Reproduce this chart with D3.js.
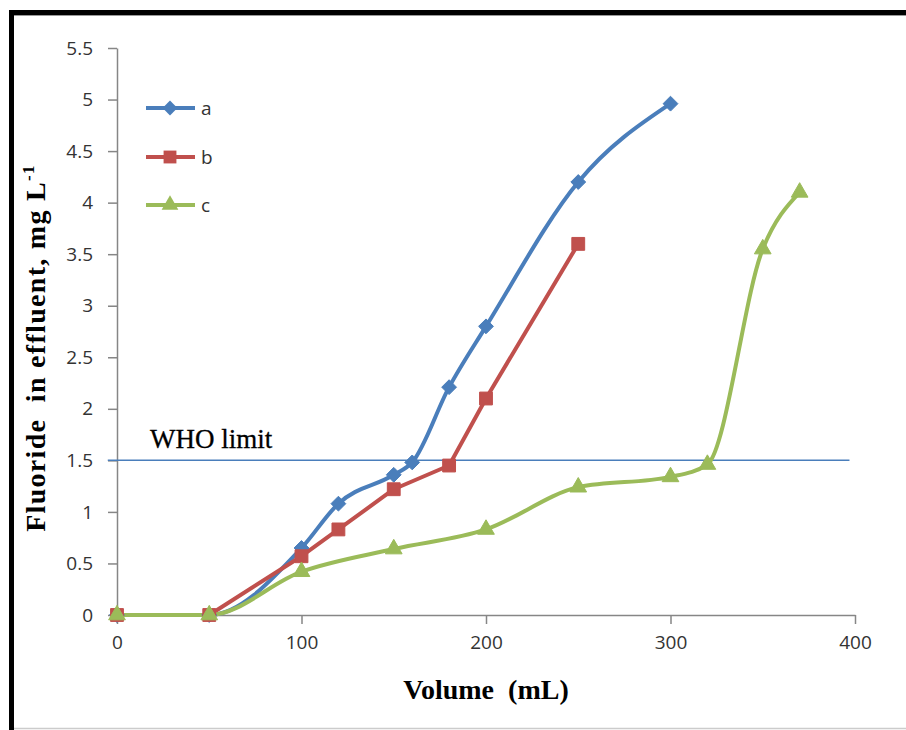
<!DOCTYPE html>
<html>
<head>
<meta charset="utf-8">
<script src="https://cdn.jsdelivr.net/npm/d3@7"></script>
<style>
  body { margin: 0; background: #fff; }
  svg { display: block; }
</style>
</head>
<body>
<svg id="chart" width="906" height="730"></svg>
<script>
// volumes (mL) and fluoride (mg/L)
var volA = [0, 50, 100, 120, 150, 160, 180, 200, 250, 300];
var valA = [0, 0, 0.65, 1.08, 1.36, 1.48, 2.21, 2.8, 4.2, 4.96];
var volB = [0, 50, 100, 120, 150, 180, 200, 250];
var valB = [0, 0, 0.57, 0.83, 1.22, 1.45, 2.1, 3.6];
var volC = [0, 50, 100, 150, 200, 250, 300, 320, 350, 370];
var valC = [0, 0, 0.42, 0.64, 0.83, 1.24, 1.34, 1.46, 3.55, 4.1];
var seriesNames = ["a", "b", "c"];
var xTicks = [0, 100, 200, 300, 400];
var yTicks = [0, 0.5, 1, 1.5, 2, 2.5, 3, 3.5, 4, 4.5, 5, 5.5];
var whoLimit = 1.5;

var svg = d3.select("#chart");

// frame round the figure
svg.append("rect").attr("x", 11.5).attr("y", 12.5).attr("width", 910).attr("height", 740)
  .attr("fill", "none").attr("stroke", "#000").attr("stroke-width", 5);
svg.append("line").attr("x1", 14).attr("x2", 906).attr("y1", 15.5).attr("y2", 15.5)
  .attr("stroke", "#999").attr("stroke-width", 1);
svg.append("line").attr("x1", 14).attr("x2", 906).attr("y1", 728.5).attr("y2", 728.5)
  .attr("stroke", "#ccc").attr("stroke-width", 1.5);

var x = d3.scaleLinear().domain([0, 400]).range([117, 855]);
var y = d3.scaleLinear().domain([0, 5.5]).range([615, 48]);

var axisColor = "#868686";
var tickFont = "'Open Sans', 'Noto Sans', sans-serif";

var xAxis = svg.append("g").attr("transform", "translate(0,615)")
  .call(d3.axisBottom(x).tickValues(xTicks).tickSizeInner(9).tickSizeOuter(0).tickPadding(12));
var yAxis = svg.append("g").attr("transform", "translate(117,0)")
  .call(d3.axisLeft(y).tickValues(yTicks).tickFormat(function(d) { return String(d); })
    .tickSizeInner(9).tickSizeOuter(0).tickPadding(15));
[xAxis, yAxis].forEach(function(g) {
  g.select(".domain").attr("stroke", axisColor).attr("stroke-width", 1.5);
  g.selectAll(".tick line").attr("stroke", axisColor).attr("stroke-width", 1.5);
  g.selectAll(".tick text").attr("fill", "#333").style("font-family", tickFont).style("font-size", "19px");
});

// WHO limit line
svg.append("line").attr("x1", x(-5)).attr("x2", x(397)).attr("y1", y(whoLimit)).attr("y2", y(whoLimit))
  .attr("stroke", "#4a7ebb").attr("stroke-width", 1.5);
svg.append("text").attr("x", 150).attr("y", 448).text("WHO limit")
  .style("font-family", "'Liberation Serif', serif").style("font-size", "27px").attr("fill", "#000")
  .attr("stroke", "#000").attr("stroke-width", 0.3);

var colors = ["#4a7ebb", "#c0504d", "#9bbb59"];
var data = [
  d3.zip(volA, valA),
  d3.zip(volB, valB),
  d3.zip(volC, valC)
];
var curves = [d3.curveMonotoneX, d3.curveLinear, d3.curveMonotoneX];
var symbols = [d3.symbolDiamond2, d3.symbolSquare2, d3.symbolTriangle2];
var symSizes = [140, 210, 200];

data.forEach(function(pts, i) {
  var line = d3.line().x(function(d) { return x(d[0]); }).y(function(d) { return y(d[1]); }).curve(curves[i]);
  svg.append("path").datum(pts).attr("d", line)
    .attr("fill", "none").attr("stroke", colors[i]).attr("stroke-width", 4)
    .attr("stroke-linejoin", "round");
});
data.forEach(function(pts, i) {
  svg.append("g").selectAll("path").data(pts).join("path")
    .attr("transform", function(d) { return "translate(" + x(d[0]) + "," + y(d[1]) + ")"; })
    .attr("d", d3.symbol().type(symbols[i]).size(symSizes[i]))
    .attr("fill", colors[i]).attr("stroke", colors[i]).attr("stroke-width", 1);
});

// legend
var legY = [108, 157, 205];
seriesNames.forEach(function(name, i) {
  svg.append("line").attr("x1", 146).attr("x2", 195).attr("y1", legY[i]).attr("y2", legY[i])
    .attr("stroke", colors[i]).attr("stroke-width", 4);
  svg.append("path").attr("transform", "translate(170," + legY[i] + ")")
    .attr("d", d3.symbol().type(symbols[i]).size(symSizes[i]))
    .attr("fill", colors[i]);
  svg.append("text").attr("x", 201).attr("y", legY[i] + 7).text(name)
    .style("font-family", tickFont).style("font-size", "19px").attr("fill", "#333");
});

// axis titles
svg.append("text").attr("x", 486).attr("y", 699).attr("text-anchor", "middle")
  .attr("xml:space", "preserve").text("Volume  (mL)")
  .style("font-family", "'Liberation Serif', serif").style("font-size", "28px").style("font-weight", "bold");
var yt = svg.append("text").attr("transform", "translate(45,348) rotate(-90)").attr("text-anchor", "middle")
  .style("font-family", "'Liberation Serif', serif").style("font-size", "28px").style("font-weight", "bold")
  .style("letter-spacing", "1.3px")
  .attr("xml:space", "preserve");
yt.append("tspan").text("Fluoride  in effluent, mg L");
yt.append("tspan").attr("dy", -11).style("font-size", "17px").text("-1");
</script>
</body>
</html>
